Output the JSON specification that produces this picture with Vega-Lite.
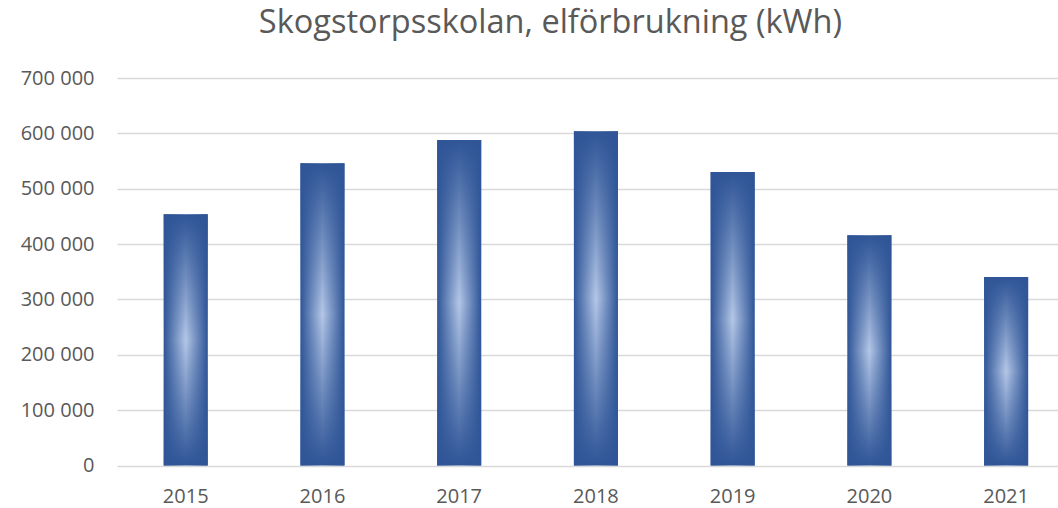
{
  "$schema": "https://vega.github.io/schema/vega-lite/v6.json",
  "autosize": "none",
  "width": 941,
  "height": 387.5,
  "padding": {"left": 117, "top": 78, "right": 0, "bottom": 42.5},
  "background": "white",
  "title": {
    "text": "Skogstorpsskolan, elförbrukning (kWh)",
    "font": "Open Sans",
    "fontSize": 32.5,
    "fontWeight": "normal",
    "color": "#595959",
    "anchor": "middle",
    "frame": "group",
    "dx": -37,
    "baseline": "alphabetic",
    "offset": 3
  },
  "data": {
    "values": [
      {"year": "2015", "kwh": 454000},
      {"year": "2016", "kwh": 546000},
      {"year": "2017", "kwh": 588000},
      {"year": "2018", "kwh": 604000},
      {"year": "2019", "kwh": 530000},
      {"year": "2020", "kwh": 416000},
      {"year": "2021", "kwh": 340500}
    ]
  },
  "encoding": {
    "x": {
      "field": "year",
      "type": "ordinal",
      "scale": {"paddingInner": 0.678, "paddingOuter": 0.28, "align": 0.61},
      "axis": {
        "title": null,
        "labelAngle": 0,
        "domain": false,
        "ticks": false,
        "labelPadding": 21,
        "labelFont": "Open Sans",
        "labelFontSize": 20,
        "labelColor": "#595959"
      }
    },
    "y": {
      "field": "kwh",
      "type": "quantitative",
      "scale": {"domain": [0, 700000], "nice": false},
      "axis": {
        "title": null,
        "values": [0, 100000, 200000, 300000, 400000, 500000, 600000, 700000],
        "labelExpr": "replace(format(datum.value, ','), /,/g, ' ')",
        "domain": false,
        "ticks": false,
        "labelPadding": 23,
        "labelFont": "Open Sans",
        "labelFontSize": 20,
        "labelColor": "#595959",
        "gridColor": "#d9d9d9",
        "gridWidth": 1.5
      }
    }
  },
  "layer": [
    {
      "mark": {
        "type": "bar",
        "color": {
          "gradient": "linear",
          "x1": 0, "y1": 0, "x2": 0, "y2": 1,
          "stops": [
            {"offset": 0, "color": "#2f5597"},
            {"offset": 0.5, "color": "#b4c7e7"},
            {"offset": 1, "color": "#2f5597"}
          ]
        }
      }
    },
    {
      "mark": {
        "type": "bar",
        "color": {
          "gradient": "linear",
          "x1": 0, "y1": 0, "x2": 1, "y2": 0,
          "stops": [
            {"offset": 0, "color": "rgba(47,85,151,1)"},
            {"offset": 0.5, "color": "rgba(47,85,151,0)"},
            {"offset": 1, "color": "rgba(47,85,151,1)"}
          ]
        }
      }
    }
  ],
  "config": {"view": {"stroke": null}}
}
